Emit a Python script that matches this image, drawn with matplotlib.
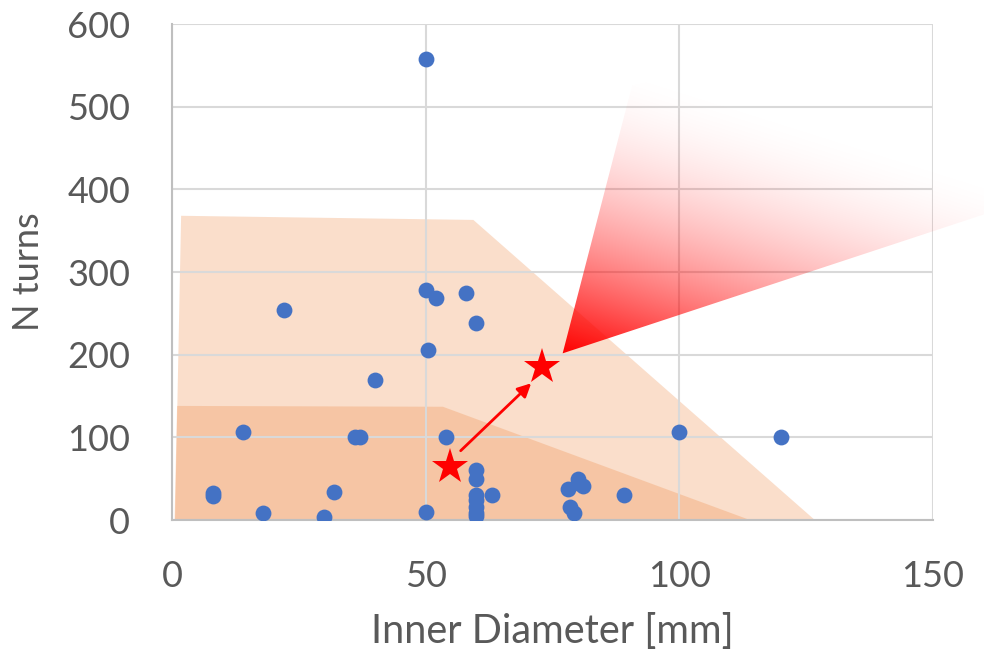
import numpy as np
import matplotlib
matplotlib.use("Agg")
import matplotlib.pyplot as plt
from matplotlib.patches import Polygon

plt.rcParams['font.family'] = ['Lato', 'DejaVu Sans']

# survey of existing coils: inner diameter [mm] vs number of turns
diameter = [50, 22, 50, 52, 58, 60, 50.5, 40, 14, 36, 37, 54, 100, 120,
            8, 8, 18, 32, 30, 50,
            60, 60, 60, 60, 60, 60, 60, 63,
            80, 80, 81, 78, 78.5, 79.3, 89]
turns = [558, 254, 278, 268, 275, 238, 206, 169, 107, 100, 100, 100, 106, 100,
         33, 29, 9, 34, 4, 10,
         61, 50, 30, 24, 16, 8, 5, 30,
         50, 45, 41, 38, 16, 8, 30]

# design space envelopes (outer = extended, inner = current)
outer_x = [0.6, 1.8, 59.4, 126.7]
outer_y = [0, 368, 363, 0]
inner_x = [0.5, 1.0, 53.4, 113.9]
inner_y = [0, 138, 137, 0]

# current design -> improved design
star_x = [54.8, 72.9]
star_y = [64.5, 185.5]
arrow_start = (56.9, 83.8)
arrow_end = (70.8, 165.4)

orange = '#ED7D31'
blue = '#4472C4'
grid_c = '#D9D9D9'
text_c = '#595959'

fig = plt.figure(figsize=(9.84, 6.58), dpi=100)
ax = fig.add_axes([172 / 984, 138 / 658, 761 / 984, 496 / 658])

ax.set_xticks([0, 50, 100, 150])
ax.set_yticks(range(0, 601, 100))
ax.grid(True, color=grid_c, linewidth=1.5, zorder=1)
ax.set_axisbelow(True)
for s in ['top', 'right']:
    ax.spines[s].set_visible(False)
for s in ['left', 'bottom']:
    ax.spines[s].set_color('#BFBFBF')
    ax.spines[s].set_linewidth(1.5)
ax.tick_params(length=0, labelsize=26, labelcolor=text_c)
ax.tick_params(axis='x', pad=29)
ax.tick_params(axis='y', pad=30)

ax.fill(outer_x, outer_y, color=orange, alpha=0.25, lw=0, zorder=0.3)
ax.fill(inner_x, inner_y, color=orange, alpha=0.25, lw=0, zorder=0.3)

ax.scatter(diameter, turns, s=130, color=blue, zorder=3, linewidths=0)

# red fading wedge pointing away from the improved design
px_x = 761 / 150
px_y = 496 / 600
apex = (77.0, 201.6)
wedge = [apex, (90.7, 526), (180, 640), (180, 410)]
ext = [75, 180, 195, 640]
gx, gy = np.meshgrid(np.linspace(ext[0], ext[1], 500), np.linspace(ext[2], ext[3], 500))
proj = (gx - apex[0]) * px_x * 0.30 + (gy - apex[1]) * px_y * 0.954
alpha = np.clip(1 - proj / 300, 0, 1) ** 1.9
img = np.zeros(gx.shape + (4,))
img[..., 0] = 1.0
img[..., 3] = alpha
im = ax.imshow(img, extent=ext, origin='lower', aspect='auto', interpolation='bilinear', zorder=4)
clip = Polygon(wedge, closed=True, transform=ax.transData)
im.set_clip_path(clip)
im.set_clip_box(fig.bbox)
ax.set_xlim(0, 150)
ax.set_ylim(0, 600)

ax.annotate('', xy=arrow_end, xytext=arrow_start,
            arrowprops=dict(arrowstyle='-|>,head_length=0.8,head_width=0.4', color='red', lw=2, shrinkA=0, shrinkB=0),
            zorder=5)
ax.plot(star_x, star_y, linestyle='none', marker='*', markersize=27, color='red', markeredgewidth=0, zorder=5)

ax.set_xlabel('Inner Diameter [mm]', fontsize=28.5, color=text_c, labelpad=14)
ax.set_ylabel('N turns', fontsize=26, color=text_c, labelpad=16)

fig.savefig('out.png', dpi=100)
